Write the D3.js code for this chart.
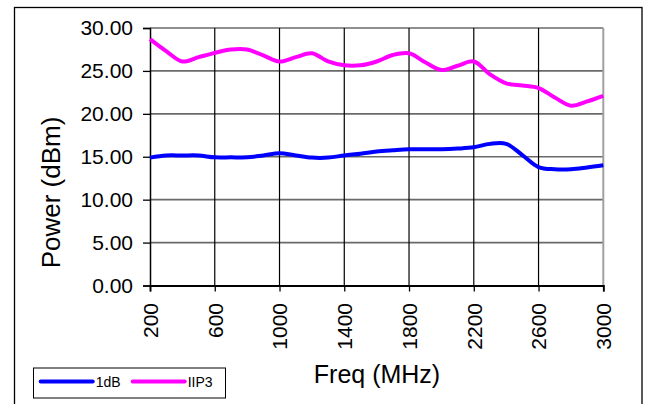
<!DOCTYPE html>
<html>
<head>
<meta charset="utf-8">
<script src="https://cdn.jsdelivr.net/npm/d3@7"></script>
<style>
	body { margin: 0; background: #fff; }
	text { font-family: "Liberation Sans", Arial, sans-serif; fill: #000; }
</style>
</head>
<body>
<div id="chart"></div>
<script>
var freqs = [200, 300, 400, 500, 600, 700, 800, 900, 1000, 1100, 1200, 1300, 1400, 1500,
	1600, 1700, 1800, 1900, 2000, 2100, 2200, 2300, 2400, 2500, 2600, 2700, 2800, 2900, 3000];

var p1dB = [14.9, 15.15, 15.15, 15.15, 14.93, 14.93, 14.93, 15.15, 15.4, 15.15, 14.9, 14.9, 15.15, 15.35,
	15.6, 15.75, 15.87, 15.87, 15.87, 15.95, 16.1, 16.5, 16.5, 15.2, 13.8, 13.54, 13.54, 13.75, 14.0];

var iip3 = [28.7, 27.3, 26.1, 26.6, 27.1, 27.5, 27.5, 26.8, 26.1, 26.6, 27.05, 26.1, 25.65, 25.65,
	26.1, 26.85, 27.05, 26.0, 25.1, 25.6, 26.1, 24.6, 23.55, 23.3, 23.0, 21.9, 20.95, 21.45, 22.1];

var xTicks = [200, 600, 1000, 1400, 1800, 2200, 2600, 3000],
	yTicks = [0, 5, 10, 15, 20, 25, 30];

var series = [
	{name: "1dB", values: p1dB, color: "#0000ff"},
	{name: "IIP3", values: iip3, color: "#ff00ff"}
];

var width = 645,
	height = 404,
	plot = {left: 150, right: 603.3, top: 28, bottom: 285.5};

var svg = d3.select("#chart")
	.append("svg")
	.attr("width", width)
	.attr("height", height);

// outer chart frame
svg.append("rect")
	.attr("x", 14.5)
	.attr("y", 7.5)
	.attr("width", 627.5)
	.attr("height", 410)
	.attr("fill", "none")
	.attr("stroke", "#000")
	.attr("stroke-width", 1.3);

var x = d3.scaleLinear().domain([200, 3000]).range([plot.left, plot.right]);
var y = d3.scaleLinear().domain([0, 30]).range([plot.bottom, plot.top]);

// horizontal grid
svg.append("g")
	.selectAll("line")
	.data(yTicks.slice(1))
	.enter().append("line")
	.attr("x1", plot.left)
	.attr("x2", plot.right)
	.attr("y1", d => y(d))
	.attr("y2", d => y(d))
	.attr("stroke", "#6a6a6a")
	.attr("stroke-width", 1.6);

// vertical grid
svg.append("g")
	.selectAll("line")
	.data(xTicks.slice(1, -1))
	.enter().append("line")
	.attr("x1", d => x(d))
	.attr("x2", d => x(d))
	.attr("y1", plot.top)
	.attr("y2", plot.bottom)
	.attr("stroke", "#000")
	.attr("stroke-width", 1.2);

// right edge of plot area
svg.append("line")
	.attr("x1", plot.right)
	.attr("x2", plot.right)
	.attr("y1", plot.top)
	.attr("y2", plot.bottom)
	.attr("stroke", "#a0a0a0")
	.attr("stroke-width", 2);

var yAxis = d3.axisLeft(y)
	.tickValues(yTicks)
	.tickSize(7)
	.tickPadding(10)
	.tickFormat(d3.format(".2f"));

var yAxisGroup = svg.append("g")
	.attr("transform", "translate(" + plot.left + ",0)")
	.call(yAxis);

yAxisGroup.select(".domain").attr("stroke-width", 1.5);
yAxisGroup.selectAll(".tick line").attr("stroke-width", 1.3);
yAxisGroup.selectAll("text")
	.style("font-size", "21px")
	.attr("dy", "0.33em");

var xAxis = d3.axisBottom(x)
	.tickValues(xTicks)
	.tickSize(6)
	.tickFormat(d3.format("d"));

var xAxisGroup = svg.append("g")
	.attr("transform", "translate(0," + plot.bottom + ")")
	.call(xAxis);

xAxisGroup.select(".domain").attr("stroke-width", 1.8);
xAxisGroup.selectAll(".tick line").attr("stroke-width", 1.3);
xAxisGroup.selectAll("text")
	.style("font-size", "21px")
	.attr("text-anchor", "end")
	.attr("transform", "rotate(-90)")
	.attr("x", -17.5)
	.attr("y", 0)
	.attr("dy", "0.35em");

// series
var line = d3.line()
	.x((d, i) => x(freqs[i]))
	.y(d => y(d))
	.curve(d3.curveCatmullRom.alpha(0.5));

series.forEach(s => {
	svg.append("path")
		.datum(s.values)
		.attr("d", line)
		.attr("fill", "none")
		.attr("stroke", s.color)
		.attr("stroke-width", 4)
		.attr("stroke-linejoin", "round");
});

// axis titles
svg.append("text")
	.attr("transform", "translate(60,192.5) rotate(-90)")
	.attr("text-anchor", "middle")
	.style("font-size", "26px")
	.text("Power (dBm)");

svg.append("text")
	.attr("x", 377)
	.attr("y", 383)
	.attr("text-anchor", "middle")
	.style("font-size", "25px")
	.text("Freq (MHz)");

// legend
var legend = svg.append("g");

legend.append("rect")
	.attr("x", 33.5)
	.attr("y", 368)
	.attr("width", 192)
	.attr("height", 30)
	.attr("fill", "#fff")
	.attr("stroke", "#000")
	.attr("stroke-width", 1);

var legendX = [40.7, 132.7];

series.forEach((s, i) => {
	legend.append("line")
		.attr("x1", legendX[i])
		.attr("x2", legendX[i] + 52)
		.attr("y1", 381.5)
		.attr("y2", 381.5)
		.attr("stroke", s.color)
		.attr("stroke-width", 4)
		.attr("stroke-linecap", "round");
	legend.append("text")
		.attr("x", legendX[i] + 55)
		.attr("y", 386.5)
		.style("font-size", "14px")
		.text(s.name);
});
</script>
</body>
</html>
